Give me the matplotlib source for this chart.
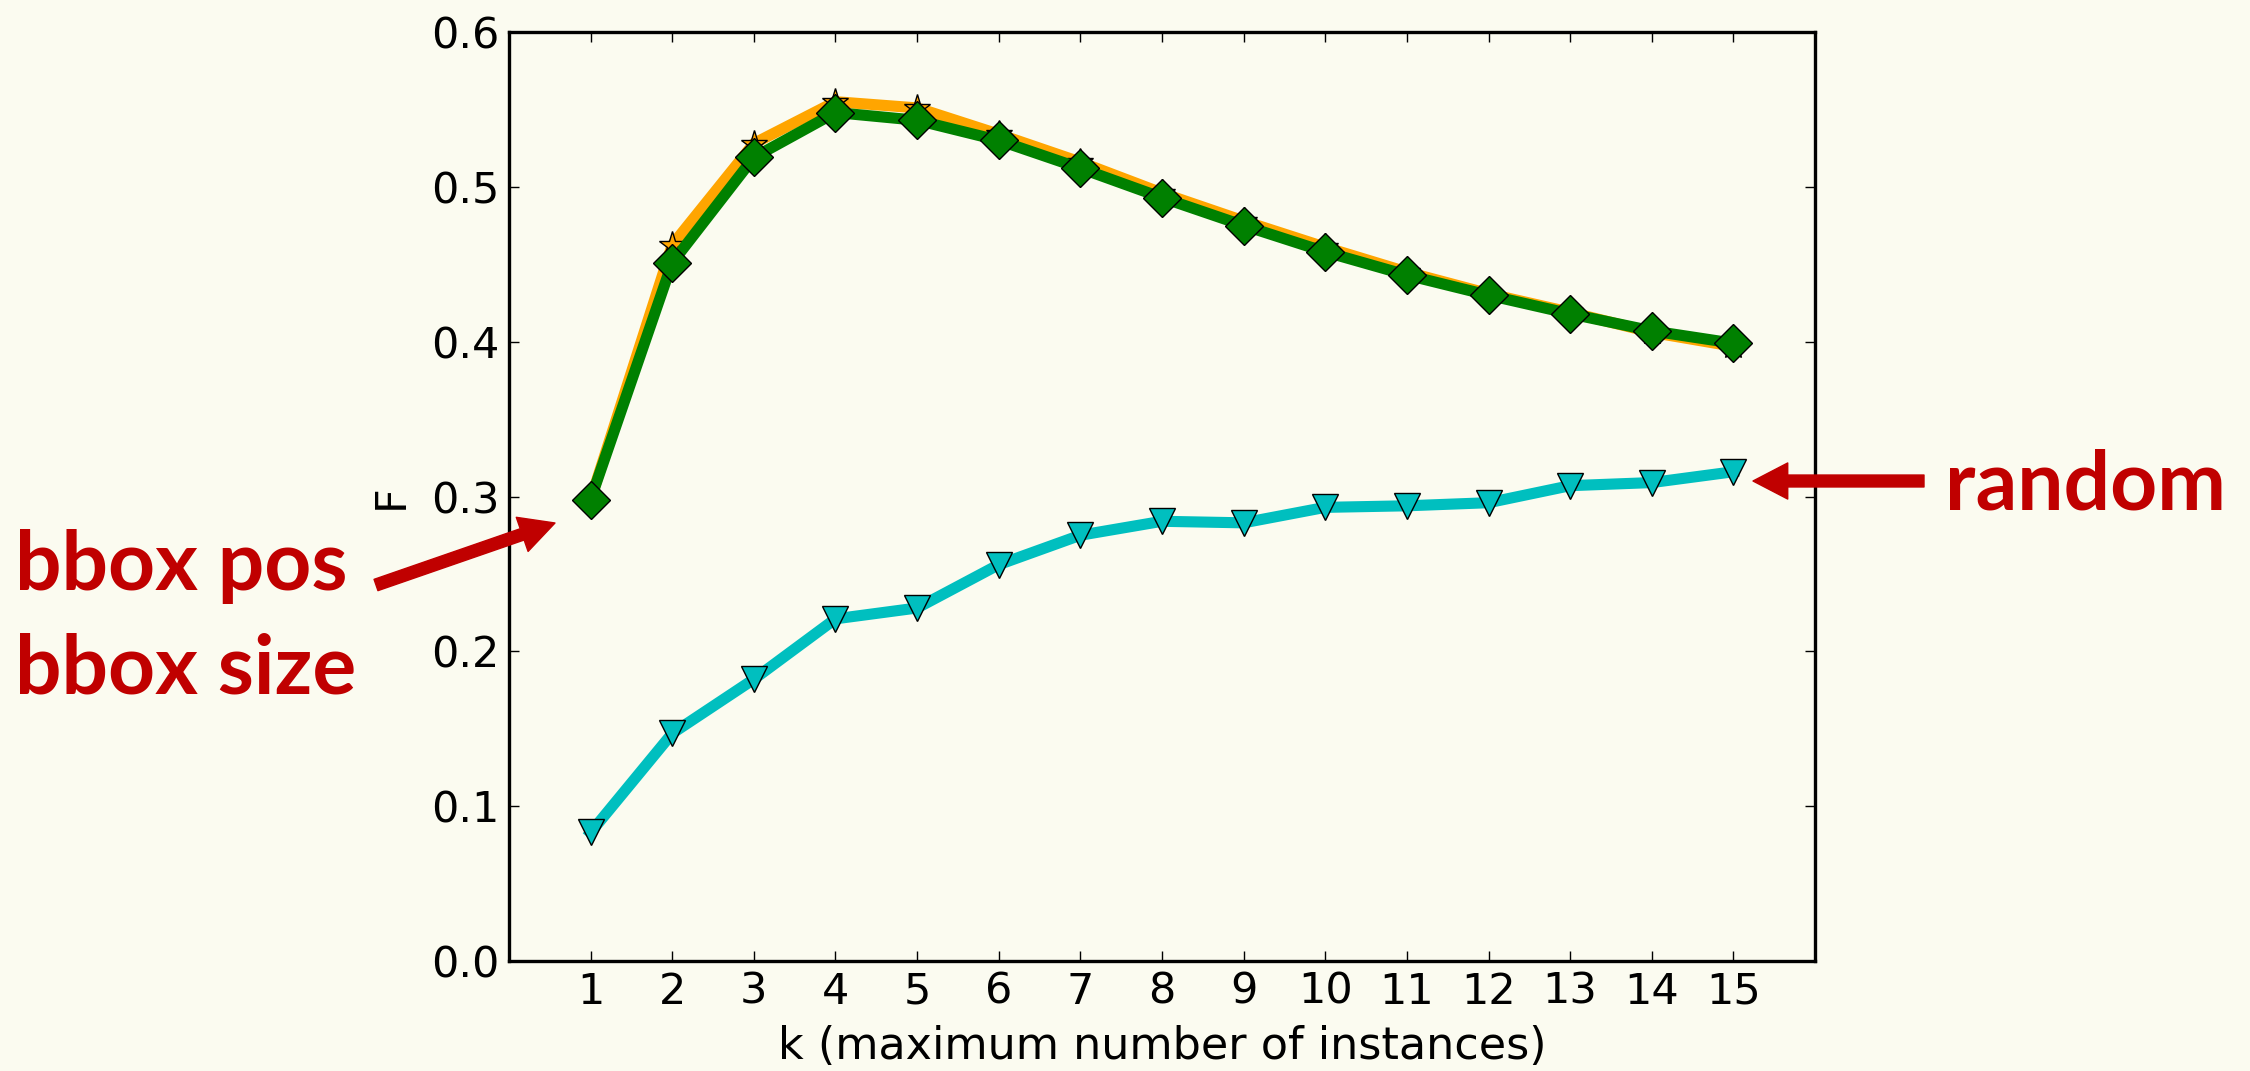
import matplotlib
matplotlib.use("Agg")
import matplotlib.pyplot as plt

# данные
k = list(range(1, 16))
f_bbox = [0.298, 0.4625, 0.528, 0.555, 0.551, 0.534, 0.516, 0.496, 0.478, 0.461, 0.445, 0.431, 0.419, 0.406, 0.397]
f_bbox_size = [0.298, 0.451, 0.519, 0.548, 0.543, 0.530, 0.512, 0.493, 0.475, 0.458, 0.443, 0.430, 0.418, 0.407, 0.399]
f_random = [0.083, 0.147, 0.182, 0.221, 0.228, 0.256, 0.275, 0.284, 0.283, 0.293, 0.294, 0.296, 0.307, 0.309, 0.316]

bg = "#fbfbf0"
red = "#c00000"

fig = plt.figure(figsize=(22.5, 10.71), dpi=100, facecolor=bg)
ax = fig.add_axes([0.2262, 0.1027, 0.5805, 0.8674], facecolor=bg)

# оранжевая линия под зелёной
ax.plot(k, f_bbox, color="orange", lw=8, marker="*", ms=20, mfc="orange", mec="black", mew=1, zorder=2)
ax.plot(k, f_bbox_size, color="green", lw=8, marker="D", ms=19, mfc="green", mec="black", mew=1, zorder=3)
ax.plot(k, f_random, color=(0, 0.75, 0.75), lw=8, marker="v", ms=19, mfc=(0, 0.75, 0.75), mec="black", mew=1, zorder=3)

ax.set_xlim(0, 16)
ax.set_ylim(0, 0.6)
ax.set_xticks(k)
ax.set_yticks([0.0, 0.1, 0.2, 0.3, 0.4, 0.5, 0.6])
ax.set_yticklabels(["0.0", "0.1", "0.2", "0.3", "0.4", "0.5", "0.6"])
ax.tick_params(direction="in", length=7, width=1, labelsize=31, pad=7,
               top=True, right=True)
for s in ax.spines.values():
    s.set_linewidth(2.4)

ax.set_xlabel("k (maximum number of instances)", fontsize=32, labelpad=9)
ax.set_ylabel("F", fontsize=31, labelpad=14)

# подписи и стрелки
fig.text(15 / 2250, 1 - 590 / 1071, "bbox pos", color=red, fontsize=59,
         fontfamily="Lato", fontweight="bold", va="baseline", ha="left")
fig.text(15 / 2250, 1 - 693 / 1071, "bbox size", color=red, fontsize=59,
         fontfamily="Lato", fontweight="bold", va="baseline", ha="left")
fig.text(1945 / 2250, 1 - 510 / 1071, "random", color=red, fontsize=59,
         fontfamily="Lato", fontweight="bold", va="baseline", ha="left")

arrow = dict(width=8.6, headwidth=26, headlength=25, color=red, shrink=0.0)
ax.annotate("", xy=(555 / 2250, 1 - 523 / 1071), xytext=(376 / 2250, 1 - 585 / 1071),
            xycoords="figure fraction", textcoords="figure fraction",
            arrowprops=arrow, annotation_clip=False)
ax.annotate("", xy=(1753 / 2250, 1 - 481 / 1071), xytext=(1924 / 2250, 1 - 481 / 1071),
            xycoords="figure fraction", textcoords="figure fraction",
            arrowprops=arrow, annotation_clip=False)

fig.savefig("out.png", dpi=100, facecolor=bg)
